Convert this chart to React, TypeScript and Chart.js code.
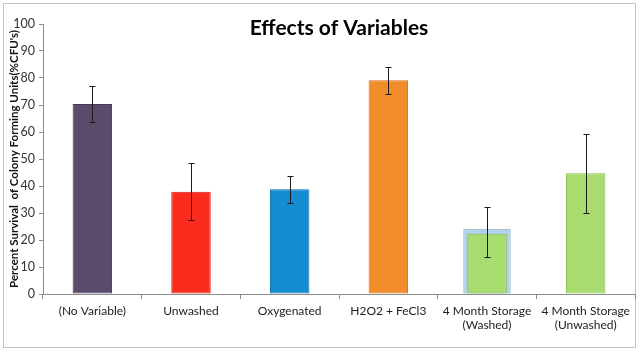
import React, { useEffect, useRef } from 'react';
import { Chart, registerables } from 'chart.js';

Chart.register(...registerables);

const categories: string[][] = [
  ['(No Variable)'],
  ['Unwashed'],
  ['Oxygenated'],
  ['H2O2 + FeCl3'],
  ['4 Month Storage', '(Washed)'],
  ['4 Month Storage', '(Unwashed)'],
];
const survival = [70.4, 37.9, 38.8, 79.2, 22.3, 44.7];
const washedOutline = [null, null, null, null, 24.2, null];
const errorHigh = [77.0, 48.4, 43.8, 84.1, 32.2, 59.3];
const errorLow = [63.8, 27.3, 33.6, 74.2, 13.8, 30.1];
const barColors = ['#5a4a6c', '#fb2b1d', '#138cd2', '#f28b29', '#a9dc6e', '#a9dc6e'];
const barEdges = ['#463858', '#d81e12', '#0b6fab', '#d06f16', '#88bd4d', '#88bd4d'];
const titleText = 'Effects of Variables';
const yTitle = "Percent Survival  of Colony Forming Units(%CFU's)";
const yMin = 0;
const yMax = 100;
const yStep = 10;

const FONT = 'Lato, "Open Sans", "DejaVu Sans", sans-serif';

export default function App() {
  const ref = useRef<HTMLCanvasElement | null>(null);

  useEffect(() => {
    document.body.style.margin = '0';
    const canvas = ref.current;
    if (!canvas) return;

    const framePlugin = {
      id: 'frame',
      beforeDraw(chart: any) {
        const ctx = chart.ctx;
        ctx.save();
        ctx.fillStyle = '#ffffff';
        ctx.fillRect(0, 0, chart.width, chart.height);
        ctx.strokeStyle = '#c4c4c4';
        ctx.lineWidth = 1;
        ctx.strokeRect(3.5, 3.5, 632, 344);
        ctx.restore();
      },
    };

    const errorPlugin = {
      id: 'errorBars',
      afterDatasetsDraw(chart: any) {
        const ctx = chart.ctx;
        const y = chart.scales.y;
        const meta = chart.getDatasetMeta(0);
        ctx.save();
        ctx.strokeStyle = '#1a1a1a';
        ctx.lineWidth = 1;
        meta.data.forEach((bar: any, i: number) => {
          const x = Math.round(bar.x) + 0.5;
          const yh = Math.round(y.getPixelForValue(errorHigh[i])) + 0.5;
          const yl = Math.round(y.getPixelForValue(errorLow[i])) + 0.5;
          ctx.beginPath();
          ctx.moveTo(x, yh);
          ctx.lineTo(x, yl);
          ctx.moveTo(x - 3, yh);
          ctx.lineTo(x + 3, yh);
          ctx.moveTo(x - 3, yl);
          ctx.lineTo(x + 3, yl);
          ctx.stroke();
        });
        ctx.restore();
      },
    };

    const titlePlugin = {
      id: 'innerTitle',
      afterDraw(chart: any) {
        const ctx = chart.ctx;
        const a = chart.chartArea;
        ctx.save();
        ctx.fillStyle = '#000000';
        ctx.font = 'bold 21px ' + FONT;
        ctx.textAlign = 'center';
        ctx.textBaseline = 'middle';
        ctx.fillText(titleText, (a.left + a.right) / 2, 28);
        ctx.restore();
      },
    };

    const chart = new Chart(canvas, {
      type: 'bar',
      data: {
        labels: categories,
        datasets: [
          {
            data: survival,
            backgroundColor: barColors,
            borderColor: barEdges,
            borderWidth: 1,
            borderSkipped: false,
            grouped: false,
            categoryPercentage: 1,
            barPercentage: 0.4,
          } as any,
          {
            data: washedOutline,
            backgroundColor: '#b2d0e6',
            borderColor: '#8aacc6',
            borderWidth: 1,
            borderSkipped: false,
            grouped: false,
            categoryPercentage: 1,
            barPercentage: 0.48,
          } as any,
        ],
      },
      options: {
        animation: false,
        responsive: false,
        maintainAspectRatio: false,
        layout: { padding: { top: 24, right: 5, left: 0, bottom: 0 } },
        plugins: {
          legend: { display: false },
          tooltip: { enabled: false },
          title: { display: false },
        },
        scales: {
          x: {
            afterFit(scale: any) {
              scale.height = 58;
            },
            grid: {
              offset: true,
              drawOnChartArea: false,
              tickLength: 5,
              color: '#8c8c8c',
            },
            border: { display: true, color: '#8c8c8c' },
            ticks: {
              color: '#222222',
              font: { family: FONT, size: 12 },
              padding: 5,
              maxRotation: 0,
              autoSkip: false,
            },
          },
          y: {
            min: yMin,
            max: yMax,
            afterFit(scale: any) {
              scale.width = 43;
            },
            grid: {
              drawOnChartArea: false,
              tickLength: 4,
              color: '#8c8c8c',
            },
            border: { display: true, color: '#8c8c8c' },
            ticks: {
              stepSize: yStep,
              color: '#333333',
              font: { family: FONT, size: 12.5 },
              padding: 4,
            },
            title: {
              display: true,
              text: yTitle,
              color: '#111111',
              font: { family: FONT, size: 11.5, weight: 'bold' },
              padding: { top: 7, bottom: 0 },
            },
          },
        },
      },
      plugins: [framePlugin, errorPlugin, titlePlugin],
    });

    return () => chart.destroy();
  }, []);

  return <canvas ref={ref} width={640} height={352} style={{ display: 'block' }} />;
}
